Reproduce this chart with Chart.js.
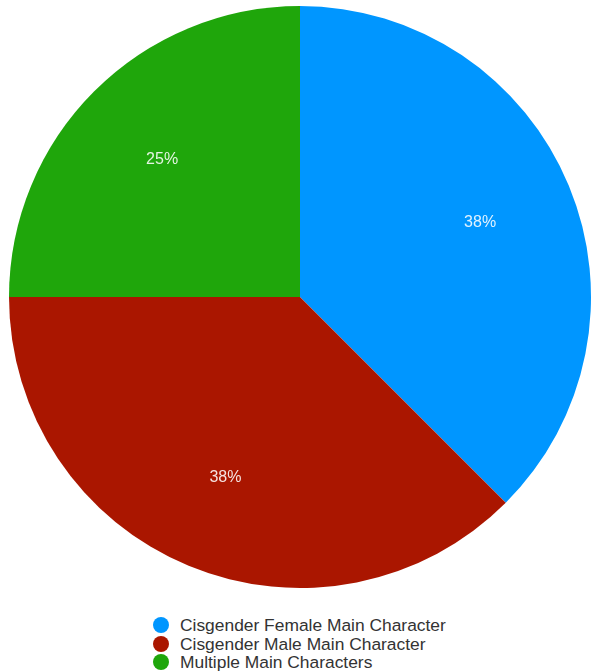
<!DOCTYPE html>
<html>
<head>
<meta charset="utf-8">
<script src="https://cdn.jsdelivr.net/npm/chart.js@4/dist/chart.umd.min.js"></script>
<style>
  html, body { margin: 0; padding: 0; background: #fff; width: 591px; height: 671px; overflow: hidden; }
  #wrap { position: absolute; left: 0; top: 0; width: 600px; height: 594px; }
  #legend { position: absolute; left: 153px; top: 616px; font-family: "Liberation Sans", Arial, Helvetica, sans-serif; font-size: 17.4px; color: #333; }
  .item { display: flex; align-items: center; height: 18.5px; line-height: 18.5px; white-space: nowrap; }
  .dot { width: 16px; height: 16px; border-radius: 50%; margin-right: 11px; flex: none; }
</style>
</head>
<body>
<div id="wrap"><canvas id="c"></canvas></div>
<div id="legend"></div>
<script>
const categories = ["Cisgender Female Main Character", "Cisgender Male Main Character", "Multiple Main Characters"];
const values = [3, 3, 2];
const colors = ["#0096FF", "#AA1600", "#1FA60B"];

const labelPlugin = {
  id: 'sliceLabels',
  afterDatasetsDraw(chart) {
    const ctx = chart.ctx;
    const meta = chart.getDatasetMeta(0);
    const data = chart.data.datasets[0].data;
    const total = data.reduce((a, b) => a + b, 0);
    ctx.save();
    ctx.font = '16px "Liberation Sans", Arial, Helvetica, sans-serif';
    ctx.fillStyle = 'rgba(255,255,255,0.88)';
    ctx.textAlign = 'center';
    ctx.textBaseline = 'middle';
    meta.data.forEach((arc, i) => {
      const p = arc.getProps(['x', 'y', 'startAngle', 'endAngle', 'outerRadius'], true);
      const mid = (p.startAngle + p.endAngle) / 2;
      const r = p.outerRadius * 0.67;
      const txt = Math.round(data[i] / total * 100) + '%';
      ctx.fillText(txt, p.x + Math.cos(mid) * r, p.y + Math.sin(mid) * r);
    });
    ctx.restore();
  }
};

new Chart(document.getElementById('c'), {
  type: 'pie',
  data: {
    labels: categories,
    datasets: [{ data: values, backgroundColor: colors, borderWidth: 0 }]
  },
  options: {
    responsive: true,
    maintainAspectRatio: false,
    animation: false,
    layout: { padding: 6 },
    plugins: { legend: { display: false }, tooltip: { enabled: false } }
  },
  plugins: [labelPlugin]
});

const legend = document.getElementById('legend');
categories.forEach((name, i) => {
  const row = document.createElement('div');
  row.className = 'item';
  const dot = document.createElement('span');
  dot.className = 'dot';
  dot.style.background = colors[i];
  const t = document.createElement('span');
  t.textContent = name;
  row.appendChild(dot);
  row.appendChild(t);
  legend.appendChild(row);
});
</script>
</body>
</html>
